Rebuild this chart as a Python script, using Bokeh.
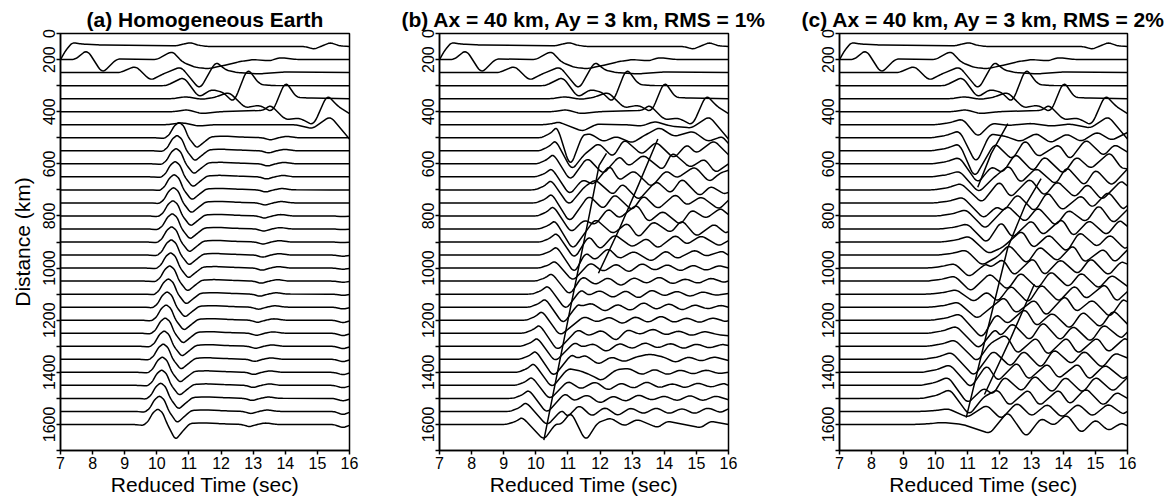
from bokeh.plotting import figure
from bokeh.layouts import row
from bokeh.models import Range1d, FixedTicker
from bokeh.embed import file_html
from bokeh.resources import INLINE

# ---------------- axes / labels ----------------
X_TICKS = list(range(7, 17))
Y_TICKS = list(range(100, 1701, 100))
Y_TICK_LABELS = ["0", "200", "", "400", "", "600", "", "800", "", "1000", "",
                 "1200", "", "1400", "", "1600", ""]
TITLES = ["(a) Homogeneous Earth",
          "(b) Ax = 40 km, Ay = 3 km, RMS = 1%",
          "(c) Ax = 40 km, Ay = 3 km, RMS = 2%"]
X_LABEL = "Reduced Time (sec)"
Y_LABEL = "Distance (km)"
TRACE_SPACING = 50.0   # km between traces = one amplitude unit

# ---------------- near-source traces (same in all panels) ----------------
# flat lists: time, amplitude(upward, in trace spacings), ...
TOP_TRACES = {
    150: [7.0, -1.0, 7.15, -0.35, 7.36, 0.3, 7.7, 0.18, 8.25, 0.12, 10.6, 0.05, 10.85, 0.2,
          11.05, 0.3, 11.3, 0.1, 11.6, 0.0, 14.6, 0.0, 14.9, -0.2, 15.15, 0.05, 15.4, 0.3,
          15.7, 0.05, 16.0, 0.0],
    200: [7.0, 0.0, 7.45, 0.0, 7.83, 0.75, 8.3, -1.05, 8.75, 0.05, 10.0, 0.0, 10.48, 0.65,
          10.8, -0.2, 11.2, -0.6, 11.6, -0.7, 12.0, -0.5, 12.6, -0.15, 13.0, 0.0, 13.5, -0.1,
          13.85, 0.15, 14.4, 0.0, 16.0, 0.0],
    250: [7.0, 0.0, 8.85, 0.0, 9.34, 0.5, 9.8, -0.6, 10.2, -0.1, 10.75, 0.45, 11.34, -1.3,
          11.83, 0.85, 12.15, 0.2, 12.5, 0.0, 13.2, -0.1, 14.0, 0.05, 16.0, 0.0],
    300: [7.0, 0.0, 10.3, 0.0, 10.84, 0.65, 11.31, -0.9, 11.7, -0.3, 12.05, -0.5, 12.4, -1.3,
          12.82, 1.35, 13.2, 0.1, 13.6, 0.0, 16.0, 0.0],
    350: [7.0, 0.0, 10.5, 0.0, 10.9, 0.15, 11.4, -0.05, 11.8, 0.1, 12.25, 0.5, 12.75, -0.7,
          13.2, -0.5, 13.6, -1.05, 14.0, 1.35, 14.35, 0.1, 14.7, 0.05, 16.0, 0.0],
    400: [7.0, 0.0, 10.5, 0.0, 10.95, 0.15, 11.4, -0.15, 12.0, 0.0, 13.3, 0.1, 13.55, 0.5,
          14.0, -0.6, 14.45, -0.5, 14.88, -1.05, 15.3, 1.3, 15.65, 0.4, 16.0, -0.15],
}

# ---------------- panel (a): homogeneous earth ----------------
A_450 = [7.0, 0.0, 10.3, 0.0, 10.8, 0.15, 11.3, -0.1, 11.8, 0.0, 14.3, 0.0, 14.85, -0.3,
         15.4, 0.65, 16.0, -1.1]
A_DIST = list(range(500, 1601, 50))
A_PEAK_T = [10.69, 10.63, 10.60, 10.57, 10.54, 10.52, 10.50, 10.48, 10.46, 10.45, 10.43,
            10.40, 10.36, 10.32, 10.29, 10.26, 10.23, 10.20, 10.17, 10.15, 10.12, 10.08, 10.03]
A_TROUGH_A = [-0.8, -0.8, -0.8, -0.8, -0.8, -0.8, -0.8, -0.8, -0.8, -0.8, -0.8, -0.8,
              -0.8, -0.8, -0.8, -0.8, -0.8, -0.8, -0.8, -0.8, -0.85, -0.9, -1.2]
A_END_DIP = [0.0, 0.0, 0.0, 0.0, 0.0, 0.0, -0.05, -0.05, -0.05, -0.1, -0.1, -0.1, -0.1,
             -0.15, -0.2, -0.2, -0.2, -0.2, -0.2, -0.2, -0.2, -0.25, -0.25]
# wavelet shape, times relative to the peak
A_SHAPE_DT = [-0.75, -0.45, -0.3, -0.15, 0.0, 0.15, 0.3, 0.55, 0.8, 1.0, 1.4, 2.0, 2.6,
              2.85, 3.1, 3.35, 3.7]
A_SHAPE_AMP = [0.0, -0.05, 0.25, 0.9, 1.2, 0.9, 0.0, -0.8, -0.3, 0.08, 0.12, 0.05, 0.0,
               -0.18, 0.0, 0.12, 0.0]

# ---------------- panel (b): RMS 1% ----------------
BC_DIST = list(range(450, 1601, 50))
B_PEAK_T = [10.72, 10.67, 10.62, 10.55, 10.50, 10.48, 10.50, 10.55, 10.60, 10.65, 10.65, 10.60,
            10.50, 10.38, 10.30, 10.20, 10.12, 10.05, 10.00, 9.94, 9.88, 9.79, 9.70, 9.58]
B_PEAK_A = [0.2, 0.85, 0.8, 0.75, 0.65, 0.75, 0.7, 0.75, 0.65, 0.7, 0.65, 0.55, 0.6, 0.65,
            0.65, 0.7, 0.65, 0.65, 0.65, 0.7, 0.65, 0.65, 0.7, 0.55]
B_TROUGH_T = [11.45, 11.07, 11.12, 11.07, 11.05, 11.03, 11.05, 11.10, 11.15, 11.20, 11.20, 11.15,
              11.05, 10.93, 10.85, 10.75, 10.67, 10.60, 10.55, 10.50, 10.43, 10.34, 10.35, 10.25]
B_TROUGH_A = [-0.5, -2.3, -1.5, -1.3, -1.4, -1.2, -1.5, -1.3, -1.6, -1.3, -1.4, -1.0, -1.1,
              -1.2, -1.3, -1.2, -1.35, -1.2, -1.35, -1.2, -1.1, -1.15, -1.1, -1.2]
B_CODA = {
    450: [11.9, 0.05, 12.8, 0.0, 13.3, -0.1, 13.7, 0.25, 14.2, -0.1, 14.85, -0.25, 15.4, 0.65, 16.0, -1.1],
    500: [11.45, 0.2, 11.7, 0.3, 12.1, -0.3, 12.5, 0.1, 13.0, -0.4, 13.4, 0.2, 13.85, 0.8,
          14.3, 0.1, 14.9, 0.5, 15.35, -0.3, 15.8, 0.1, 16.0, -0.45],
    550: [11.5, -0.3, 11.95, 0.6, 12.4, -0.5, 12.75, 0.9, 13.3, -0.3, 13.75, 0.7, 14.3, -0.6,
          14.7, 0.5, 15.0, -0.2, 15.55, 0.8, 16.0, -0.3],
    600: [11.6, 0.5, 12.1, -0.8, 12.6, 0.6, 12.9, -0.2, 13.35, 0.7, 13.95, -0.5, 14.25, 0.9,
          14.8, -0.3, 15.25, 0.4, 15.6, -0.7, 16.0, 0.0],
    650: [11.45, -0.2, 11.8, -0.6, 12.3, 0.9, 12.6, -0.3, 13.05, 0.5, 13.6, -0.8, 14.05, 0.5,
          14.4, -0.1, 14.95, 0.8, 15.4, -0.4, 15.75, 0.3, 16.0, 0.5],
    700: [11.5, 0.2, 11.85, 0.8, 12.4, -0.4, 12.7, 0.5, 13.2, -0.8, 13.75, 0.7, 14.2, -0.3,
          14.55, 0.9, 15.1, -0.5, 15.45, 0.3, 15.85, -0.3, 16.0, -0.2],
    750: [11.65, 0.6, 12.1, -0.5, 12.45, 0.7, 13.0, -0.6, 13.35, 0.6, 13.8, -0.5, 14.35, 0.7,
          14.7, -0.2, 15.15, 0.5, 15.7, -0.5, 16.0, 0.2],
    800: [11.5, -0.3, 11.85, -0.7, 12.25, 0.6, 12.6, -0.2, 13.15, 0.9, 13.5, -0.5, 13.95, 0.4,
          14.5, -0.7, 14.85, 0.5, 15.3, -0.2, 15.75, 0.6, 16.0, 0.1],
    850: [11.85, 0.8, 12.4, -0.4, 12.85, 0.5, 13.2, -0.7, 13.65, 0.6, 14.2, -0.3, 14.55, 0.7,
          15.0, -0.6, 15.55, 0.4, 15.9, -0.3, 16.0, -0.2],
    900: [11.65, 0.5, 12.0, -0.6, 12.45, 0.6, 13.0, -0.4, 13.45, 0.3, 13.8, -0.5, 14.35, 0.55,
          14.7, -0.2, 15.15, 0.5, 15.7, -0.3, 16.0, 0.1],
    950: [11.55, 0.2, 11.85, -0.4, 12.25, 0.55, 12.6, -0.3, 13.05, 0.3, 13.6, -0.5, 14.05, 0.35,
          14.4, -0.3, 14.95, 0.4, 15.3, -0.1, 15.8, 0.3, 16.0, 0.0],
    1000: [11.7, 0.45, 12.1, -0.3, 12.5, 0.35, 12.9, -0.35, 13.3, 0.4, 13.7, -0.2, 14.1, 0.3,
           14.5, -0.25, 14.9, 0.25, 15.3, -0.2, 15.7, 0.2, 16.0, 0.0],
    1050: [11.45, 0.4, 11.85, -0.3, 12.25, 0.3, 12.65, -0.4, 13.05, 0.3, 13.45, -0.2, 13.85, 0.35,
           14.25, -0.25, 14.65, 0.2, 15.05, -0.2, 15.45, 0.25, 15.85, -0.1, 16.0, 0.0],
    1100: [11.4, 0.35, 11.65, -0.1, 12.0, 0.3, 12.4, -0.3, 12.8, 0.3, 13.2, -0.35, 13.6, 0.35,
           14.0, -0.15, 14.4, 0.25, 14.8, -0.2, 15.2, 0.2, 15.6, -0.1, 16.0, 0.05],
    1150: [11.3, 0.2, 11.45, 0.1, 11.75, 0.3, 12.15, -0.35, 12.55, 0.25, 12.95, -0.3, 13.35, 0.4,
           13.75, -0.2, 14.15, 0.3, 14.55, -0.25, 14.95, 0.2, 15.35, -0.15, 15.75, 0.15, 16.0, 0.0],
    1200: [11.5, 0.3, 11.9, -0.15, 12.3, 0.25, 12.7, -0.3, 13.1, 0.3, 13.5, -0.2, 13.9, 0.35,
           14.3, -0.2, 14.7, 0.2, 15.1, -0.2, 15.5, 0.2, 15.9, -0.1, 16.0, -0.05],
    1250: [11.3, 0.3, 11.65, -0.2, 12.05, 0.25, 12.5, -0.6, 12.85, 0.3, 13.25, -0.1, 13.65, 0.35,
           14.05, -0.15, 14.45, 0.2, 14.85, -0.2, 15.25, 0.15, 15.65, -0.1, 16.0, -0.2],
    1300: [11.2, 0.3, 11.45, -0.05, 11.8, 0.2, 12.2, -0.45, 12.6, 0.25, 13.0, -0.2, 13.4, 0.3,
           13.8, -0.15, 14.2, 0.25, 14.6, -0.2, 15.0, 0.2, 15.4, -0.15, 15.8, 0.15, 16.0, 0.05],
    1350: [11.1, 0.35, 11.3, 0.1, 11.55, 0.3, 11.95, -0.4, 12.35, 0.2, 12.75, -0.2, 13.15, 0.2,
           13.55, 0.4, 13.95, 0.2, 14.35, -0.25, 14.75, 0.2, 15.15, -0.15, 15.55, 0.2, 16.0, -0.1],
    1400: [11.0, 0.3, 11.4, 0.1, 11.7, -0.2, 12.05, -0.65, 12.5, 0.2, 12.9, 0.3, 13.3, -0.2,
           13.7, 0.25, 14.1, -0.2, 14.5, 0.2, 14.9, -0.15, 15.3, 0.2, 15.7, -0.1, 16.0, 0.0],
    1450: [11.0, 0.35, 11.4, -0.3, 11.85, 0.3, 12.25, -0.4, 12.65, 0.2, 13.05, -0.25, 13.45, 0.3,
           13.85, -0.2, 14.25, 0.15, 14.65, -0.2, 15.05, 0.2, 15.45, -0.15, 15.85, 0.15, 16.0, 0.0],
    1500: [10.9, 0.4, 11.2, -0.2, 11.6, 0.3, 12.0, -0.4, 12.4, 0.2, 12.8, -0.25, 13.2, 0.3,
           13.6, -0.15, 14.0, 0.2, 14.4, -0.2, 14.8, 0.25, 15.2, -0.2, 15.6, 0.2, 16.0, -0.1],
    1550: [10.8, 0.1, 11.0, -0.4, 11.35, 0.5, 11.75, -0.4, 12.15, 0.35, 12.55, -0.35, 12.95, 0.3,
           13.35, -0.2, 13.75, 0.3, 14.15, -0.2, 14.55, 0.25, 14.95, -0.2, 15.35, 0.3, 15.75, -0.1, 16.0, 0.2],
    1600: [10.6, 0.0, 10.8, 0.05, 11.1, 0.95, 11.55, -1.3, 11.92, 0.13, 12.33, 0.5, 12.75, -0.13,
           13.16, 0.4, 13.79, -0.25, 14.1, 0.25, 14.5, 0.05, 15.14, -0.25, 15.45, 0.25, 16.0, 0.0],
}
B_LONG_T = [[10.25, 11.0, 11.33, 11.66, 11.97, 12.2], [11.95, 12.6, 13.2, 13.8]]
B_LONG_D = [[1660, 1200, 1000, 800, 606, 560], [1020, 850, 680, 505]]

# ---------------- panel (c): RMS 2% ----------------
C_PEAK_T = [10.85, 10.75, 10.75, 10.75, 10.75, 10.8, 10.85, 10.95, 11.0, 11.05, 10.95, 10.6,
            10.6, 10.65, 10.7, 10.75, 10.65, 10.6, 10.5, 10.45, 10.4, 10.45, 10.4, 10.2]
C_PEAK_A = [0.45, 0.55, 0.55, 0.5, 0.45, 0.5, 0.45, 0.5, 0.4, 0.45, 0.4, 0.35, 0.4, 0.35,
            0.4, 0.5, 0.55, 0.5, 0.55, 0.6, 0.65, 0.7, 0.2, 0.15]
C_TROUGH_T = [11.32, 11.27, 11.22, 11.32, 11.35, 11.45, 11.5, 11.55, 11.6, 11.65, 11.45, 11.05,
              11.1, 11.2, 11.3, 11.45, 11.35, 11.3, 11.2, 11.1, 11.0, 11.05, 11.0, 10.85]
C_TROUGH_A = [-0.95, -2.0, -2.1, -1.5, -1.2, -1.0, -1.2, -1.0, -1.1, -0.9, -0.8, -0.7, -0.8,
              -0.6, -0.9, -1.4, -1.2, -1.2, -1.3, -1.2, -1.4, -1.3, -0.45, 0.0]
C_CODA = {
    450: [11.75, 0.1, 12.3, -0.05, 13.0, 0.1, 13.6, -0.1, 14.2, 0.05, 14.85, -0.25,
          15.4, 0.65, 16.0, -1.1],
    500: [11.7, 0.3, 12.2, 0.1, 12.65, -0.3, 13.15, 0.35, 13.6, -0.4, 14.1, 0.3, 14.55, -0.3,
          15.05, 0.45, 15.5, -0.2, 16.0, 0.4],
    550: [11.85, 0.6, 12.4, -0.7, 12.8, 0.9, 13.2, -0.5, 13.85, 0.5, 14.2, -0.7, 14.7, 0.9,
          15.25, -0.4, 15.6, 0.5, 16.0, -0.1],
    600: [11.75, -0.2, 12.1, -0.7, 12.5, 0.8, 13.05, -0.6, 13.4, 0.6, 14.0, -0.8, 14.4, 0.6,
          14.85, -0.4, 15.45, 0.9, 15.8, -0.3, 16.0, -0.4],
    650: [11.8, -0.1, 12.3, 0.9, 12.65, -0.5, 13.15, 0.7, 13.75, -0.6, 14.1, 0.8, 14.65, -0.7,
          15.0, 0.6, 15.5, -0.7, 16.0, 0.6],
    700: [12.0, 0.7, 12.35, -0.6, 12.95, 0.9, 13.4, -0.5, 13.8, 0.7, 14.35, -0.6, 14.75, 0.5,
          15.2, -0.8, 15.8, 0.7, 16.0, 0.3],
    750: [11.9, -0.3, 12.15, -0.6, 12.55, 0.7, 13.1, -0.7, 13.5, 0.9, 13.95, -0.6, 14.55, 0.6,
          14.9, -0.4, 15.4, 0.9, 15.85, -0.5, 16.0, -0.2],
    800: [12.25, 0.8, 12.8, -0.5, 13.2, 0.7, 13.75, -0.8, 14.15, 0.5, 14.7, -0.5, 15.1, 0.9,
          15.55, -0.6, 16.0, 0.5],
    850: [12.05, 0.6, 12.4, -0.7, 13.0, 0.7, 13.35, -0.5, 13.95, 0.8, 14.3, -0.6, 14.8, 0.7,
          15.35, -0.5, 15.75, 0.7, 16.0, 0.2],
    900: [12.1, -0.4, 12.7, 0.9, 13.05, -0.5, 13.55, 0.6, 14.1, -0.8, 14.5, 0.8, 15.05, -0.4,
          15.45, 0.6, 15.9, -0.5, 16.0, -0.4],
    950: [11.95, -0.1, 12.3, 0.8, 12.85, -0.7, 13.25, 0.7, 13.8, -0.5, 14.3, 0.8, 14.65, -0.6,
          15.25, 0.5, 15.6, -0.6, 16.0, 0.4],
    1000: [11.55, 0.3, 11.75, 0.1, 12.1, 0.7, 12.45, -0.6, 13.05, 0.8, 13.4, -0.6, 13.9, 0.7,
           14.45, -0.5, 14.85, 0.8, 15.4, -0.6, 15.8, 0.5, 16.0, 0.3],
    1050: [11.7, 0.6, 12.25, -0.7, 12.65, 0.7, 13.2, -0.6, 13.6, 0.8, 14.15, -0.5, 14.55, 0.7,
           15.1, -0.6, 15.5, 0.5, 16.0, -0.4],
    1100: [11.6, 0.2, 11.95, -0.6, 12.35, 0.7, 12.9, -0.7, 13.3, 0.8, 13.85, -0.6, 14.35, 0.7,
           14.7, -0.4, 15.3, 0.8, 15.65, -0.6, 16.0, 0.2],
    1150: [12.15, 0.8, 12.5, -0.5, 13.1, 0.6, 13.45, -0.7, 14.05, 0.9, 14.4, -0.4, 14.9, 0.6,
           15.45, -0.8, 15.85, 0.6, 16.0, 0.4],
    1200: [11.9, 0.5, 12.25, -0.3, 12.8, 0.9, 13.15, -0.5, 13.65, 0.6, 14.2, -0.7, 14.6, 0.7,
           15.15, -0.6, 15.55, 0.8, 16.0, -0.3],
    1250: [11.85, 0.3, 12.05, -0.2, 12.4, 0.8, 12.95, -0.6, 13.35, 0.9, 13.9, -0.6, 14.3, 0.6,
           14.85, -0.7, 15.25, 0.7, 15.8, -0.4, 16.0, 0.1],
    1300: [11.7, 0.2, 12.2, 0.9, 12.55, -0.6, 13.15, 0.7, 13.5, -0.7, 14.1, 0.7, 14.45, -0.6,
           15.05, 0.7, 15.4, -0.5, 15.9, 0.6, 16.0, 0.5],
    1350: [11.8, 0.7, 12.35, -0.6, 12.75, 0.7, 13.3, -0.7, 13.7, 0.8, 14.25, -0.4, 14.65, 0.7,
           15.2, -0.7, 15.6, 0.5, 16.0, 0.1],
    1400: [11.6, 0.6, 11.95, -0.7, 12.55, 0.8, 12.9, -0.6, 13.5, 0.7, 13.85, -0.5, 14.45, 0.7,
           14.8, -0.6, 15.3, 0.6, 15.85, -0.5, 16.0, -0.3],
    1450: [11.5, -0.2, 11.8, -0.7, 12.15, 0.7, 12.7, -0.5, 13.1, 0.8, 13.65, -0.6, 14.05, 0.7,
           14.6, -0.6, 15.0, 0.7, 15.55, -0.5, 16.0, 0.6],
    1500: [11.5, 0.1, 11.95, 0.7, 12.3, -0.6, 12.9, 0.7, 13.25, -0.6, 13.85, 0.7, 14.2, -0.5,
           14.7, 0.8, 15.25, -0.6, 15.65, 0.5, 16.0, 0.0],
    1550: [11.6, 0.5, 12.05, -0.6, 12.55, 0.7, 13.0, -0.4, 13.5, 0.6, 13.95, -0.5, 14.45, 0.6,
           14.9, -0.4, 15.4, 0.6, 15.85, -0.2, 16.0, 0.0],
    1600: [11.7, -0.7, 12.26, 1.0, 12.83, -1.0, 13.3, 0.5, 13.7, -0.1, 14.1, 0.8, 14.55, -0.7,
           15.0, 0.4, 15.4, -0.5, 15.8, 0.1, 16.0, -0.1],
}
C_LONG_T = [[10.96, 11.6, 12.26, 12.8, 13.3], [11.53, 12.36, 13.09], [11.32, 11.74, 12.26]]
C_LONG_D = [[1574, 1250, 921, 760, 657], [1485, 1267, 1062], [690, 561, 446]]


# ---------------- helpers ----------------
def pairs(flat):
    return list(zip(flat[0::2], flat[1::2]))


def rounded(points, radius=0.12, frac=0.3, n=6):
    """Round the corners of a keypoint polyline (stroke smoothing only)."""
    out = [points[0]]
    for i in range(1, len(points) - 1):
        (t0, a0), (t1, a1), (t2, a2) = points[i - 1], points[i], points[i + 1]
        fa = min(frac, radius / max(t1 - t0, 1e-6))
        fb = min(frac, radius / max(t2 - t1, 1e-6))
        pa = (t1 + fa * (t0 - t1), a1 + fa * (a0 - a1))
        pb = (t1 + fb * (t2 - t1), a1 + fb * (a2 - a1))
        for k in range(n + 1):
            s = k / n
            out.append(((1 - s) ** 2 * pa[0] + 2 * (1 - s) * s * t1 + s * s * pb[0],
                        (1 - s) ** 2 * pa[1] + 2 * (1 - s) * s * a1 + s * s * pb[1]))
    out.append(points[-1])
    return out


def to_xy(dist, points):
    pts = rounded(points)
    return [t for t, _ in pts], [dist - a * TRACE_SPACING for _, a in pts]


def top_lines():
    xs, ys = [], []
    for d, flat in TOP_TRACES.items():
        x, y = to_xy(d, pairs(flat))
        xs.append(x)
        ys.append(y)
    return xs, ys


def panel_a_lines():
    xs, ys = top_lines()
    x, y = to_xy(450, pairs(A_450))
    xs.append(x)
    ys.append(y)
    for d, pk, tr, dip in zip(A_DIST, A_PEAK_T, A_TROUGH_A, A_END_DIP):
        pts = [(7.0, 0.0)]
        for dt, a in zip(A_SHAPE_DT, A_SHAPE_AMP):
            if a < 0 and dt < 1.0:
                a = a * tr / -0.8
            pts.append((pk + dt, a))
        pts += [(15.5, 0.0), (15.8, dip), (16.0, dip * 0.3)]
        x, y = to_xy(d, pts)
        xs.append(x)
        ys.append(y)
    return xs, ys


def panel_bc_lines(peak_t, peak_a, tr_t, tr_a, coda, onset, mid_dt, mid_frac):
    xs, ys = top_lines()
    for i, d in enumerate(BC_DIST):
        p, ap = peak_t[i], peak_a[i]
        pts = [(7.0, 0.0), (p - onset, 0.0), (p - mid_dt, mid_frac * ap), (p, ap),
               (tr_t[i], tr_a[i])] + pairs(coda[d])
        x, y = to_xy(d, pts)
        xs.append(x)
        ys.append(y)
    return xs, ys


FONT = "Liberation Sans"


def make_panel(width, left, right, title, show_ylabel):
    p = figure(width=width, height=501, x_range=Range1d(7, 16), y_range=Range1d(1700, 100),
               output_backend="svg", toolbar_location=None, title=title,
               min_border_left=left, min_border_right=right,
               min_border_top=33, min_border_bottom=51)
    p.title.align = "center"
    p.title.text_font = FONT
    p.title.text_font_size = "21px"
    p.title.text_font_style = "bold"
    p.title.text_color = "black"
    p.title.standoff = 5
    p.grid.visible = False
    p.background_fill_color = "white"
    p.border_fill_color = "white"
    p.outline_line_color = "black"
    p.outline_line_width = 1.5
    p.outline_line_alpha = 1.0
    p.xaxis.ticker = FixedTicker(ticks=X_TICKS)
    p.yaxis.ticker = FixedTicker(ticks=Y_TICKS)
    p.yaxis.major_label_overrides = {t: lab for t, lab in zip(Y_TICKS, Y_TICK_LABELS)}
    p.yaxis.major_label_orientation = "vertical"
    for ax in (p.xaxis, p.yaxis):
        ax.axis_line_color = "black"
        ax.axis_line_width = 1.5
        ax.major_tick_line_color = "black"
        ax.major_tick_line_width = 1.5
        ax.major_tick_out = 4
        ax.major_tick_in = 0
        ax.minor_tick_line_color = None
        ax.major_label_text_font = FONT
        ax.major_label_text_font_size = "16px"
        ax.major_label_text_color = "black"
        ax.major_label_standoff = 2
        ax.axis_label_text_font = FONT
        ax.axis_label_text_font_size = "21px"
        ax.axis_label_text_font_style = "normal"
        ax.axis_label_text_color = "black"
    p.xaxis.axis_label = X_LABEL
    p.xaxis.axis_label_standoff = 1
    if show_ylabel:
        p.yaxis.axis_label = Y_LABEL
        p.yaxis.axis_label_standoff = 6
    return p


pa = make_panel(385, 60, 36, TITLES[0], True)
xs, ys = panel_a_lines()
pa.multi_line(xs, ys, line_color="black", line_width=1.5, line_join="round")

pb = make_panel(391, 54, 48, TITLES[1], False)
xs, ys = panel_bc_lines(B_PEAK_T, B_PEAK_A, B_TROUGH_T, B_TROUGH_A, B_CODA, 0.5, 0.22, 0.4)
pb.multi_line(xs, ys, line_color="black", line_width=1.5, line_join="round")
pb.multi_line(B_LONG_T, B_LONG_D, line_color="black", line_width=1.5, line_join="round")

pc = make_panel(391, 63, 40, TITLES[2], False)
xs, ys = panel_bc_lines(C_PEAK_T, C_PEAK_A, C_TROUGH_T, C_TROUGH_A, C_CODA, 0.85, 0.4, 0.35)
pc.multi_line(xs, ys, line_color="black", line_width=1.5, line_join="round")
pc.multi_line(C_LONG_T, C_LONG_D, line_color="black", line_width=1.5, line_join="round")

layout = row(pa, pb, pc)
open("out.html", "w").write(file_html(layout, INLINE))
